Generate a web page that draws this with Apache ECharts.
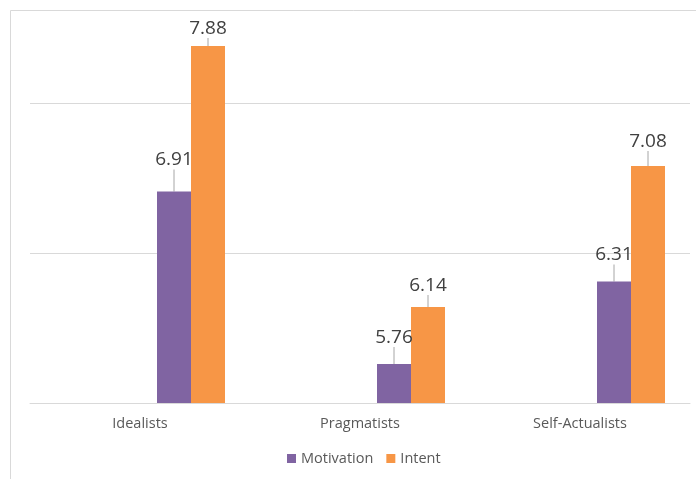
<!DOCTYPE html>
<html>
<head>
<meta charset="utf-8">
<script src="https://cdn.jsdelivr.net/npm/echarts@6/dist/echarts.min.js"></script>
<style>
  html, body { margin: 0; padding: 0; background: #fff; }
  #chart { width: 696px; height: 479px; }
</style>
</head>
<body>
<div id="chart"></div>
<script>
// Segment scores
const categories = ['Idealists', 'Pragmatists', 'Self-Actualists'];
const motivation = [6.91, 5.76, 6.31];
const intent = [7.88, 6.14, 7.08];

// Extra upward nudge (px) for each data label, per series
const labelLift = {
  Motivation: [19, 14, 14],
  Intent: [5, 9, 12]
};

const FONT = '"Open Sans", "Noto Sans", sans-serif';

function valueSeries(name, data, color) {
  return {
    name: name,
    type: 'bar',
    data: data,
    barWidth: 34,
    barGap: '0%',
    itemStyle: { color: color },
    label: {
      show: true,
      position: 'top',
      distance: 3,
      fontFamily: FONT,
      fontSize: 19,
      color: '#404040'
    },
    labelLayout: function (p) {
      return { dy: -labelLift[name][p.dataIndex] };
    },
    labelLine: {
      show: true,
      length2: 0,
      lineStyle: { color: '#a6a6a6', width: 1 }
    }
  };
}

// Empty slots occupy the first three bar positions in each category
function emptySeries(id) {
  return { id: id, type: 'bar', data: [], barWidth: 34, barGap: '0%' };
}

const chart = echarts.init(document.getElementById('chart'));
chart.setOption({
  animation: false,
  backgroundColor: '#fff',
  graphic: [{
    type: 'rect',
    shape: { x: 10.5, y: 10.5, width: 720, height: 520 },
    style: { fill: null, stroke: '#d9d9d9', lineWidth: 1 },
    silent: true
  }],
  grid: { left: 30, right: 6, top: 28, bottom: 76 },
  legend: {
    data: ['Motivation', 'Intent'],
    bottom: 8,
    left: 282,
    icon: 'rect',
    itemWidth: 9,
    itemHeight: 9,
    itemGap: 13,
    textStyle: { fontFamily: FONT, fontSize: 14.5, color: '#595959' }
  },
  xAxis: {
    type: 'category',
    data: categories,
    axisLine: { lineStyle: { color: '#d9d9d9', width: 1 } },
    axisTick: { show: false },
    axisLabel: { fontFamily: FONT, fontSize: 14.5, color: '#595959', margin: 13 }
  },
  yAxis: {
    type: 'value',
    min: 5.5,
    max: 8,
    interval: 1,
    axisLabel: { show: false },
    axisLine: { show: false },
    axisTick: { show: false },
    splitLine: {
      show: true,
      showMaxLine: false,
      lineStyle: { color: '#d9d9d9', width: 1 }
    }
  },
  series: [
    emptySeries('s1'),
    emptySeries('s2'),
    emptySeries('s3'),
    valueSeries('Motivation', motivation, '#8064a2'),
    valueSeries('Intent', intent, '#f79646')
  ]
});
</script>
</body>
</html>
